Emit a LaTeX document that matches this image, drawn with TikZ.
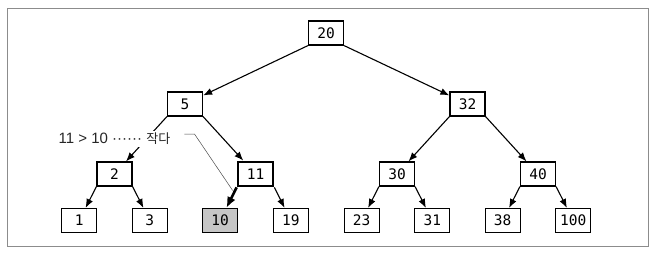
\documentclass[tikz,border=0pt]{standalone}
\usepackage{fontspec}
\setmainfont{Liberation Sans}
\setmonofont{DejaVu Sans Mono}
\newfontfamily\kor{Noto Sans CJK KR}
\usepackage{xcolor}
\usepackage{tikz}
\usetikzlibrary{arrows.meta, positioning}
\definecolor{framegray}{HTML}{8C8C8C}
\definecolor{hitgray}{HTML}{C6C6C6}
\tikzstyle{keybox} = [rectangle, minimum width=35pt, minimum height=24pt,
  inner sep=0pt, text centered, draw=black, fill=white, line width=1.2pt,
  font=\ttfamily\fontsize{14.5}{16}\selectfont]
\tikzstyle{arrow} = [line width=1.1pt, -{Latex[length=9pt,width=7pt]}]

\begin{document}
\begin{tikzpicture}[on grid,
  found/.style={keybox, fill=hitgray},
  visit/.style={keybox, line width=2.8pt},
  bold arrow/.style={line width=2.6pt, -{Latex[length=11pt,width=9pt]}},
  note/.style={fill=white, inner sep=2pt, text=black!85,
    font=\fontsize{15}{17}\selectfont},
  leader/.style={line width=0.5pt, draw=black!70}]

\useasboundingbox (0pt,0pt) rectangle (666pt,-258pt);
\fill[white] (0pt,0pt) rectangle (666pt,-258pt);
\draw[framegray, line width=1pt] (7pt,-8pt) rectangle (648pt,-246pt);

% root and second level
\node (n20) [keybox] at (326pt,-33pt) {20};
\node (n5)  [keybox, below left=71pt and 141pt of n20]  {5};
\node (n32) [keybox, below right=71pt and 141.5pt of n20] {32};

% third level
\node (n2)  [keybox, below left=70pt and 70.5pt of n5]   {2};
\node (n11) [visit,  below right=70pt and 70.5pt of n5]  {11};
\node (n30) [keybox, below left=70pt and 70.5pt of n32]  {30};
\node (n40) [keybox, below right=70pt and 70.5pt of n32] {40};

% leaves
\node (n1)   [keybox, below left=46.5pt and 35.3pt of n2]   {1};
\node (n3)   [keybox, below right=46.5pt and 35.3pt of n2]  {3};
\node (n10)  [found,  below left=46.5pt and 35.3pt of n11]  {10};
\node (n19)  [keybox, below right=46.5pt and 35.3pt of n11] {19};
\node (n23)  [keybox, below left=46.5pt and 35.3pt of n30]  {23};
\node (n31)  [keybox, below right=46.5pt and 35.3pt of n30] {31};
\node (n38)  [keybox, below left=46.5pt and 35.3pt of n40]  {38};
\node (n100) [keybox, below right=46.5pt and 35.3pt of n40] {100};

\draw [arrow] (n20.south west) -- (n5);
\draw [arrow] (n20.south east) -- (n32);
\draw [arrow] (n5.south west) -- (n2);
\draw [arrow] (n5.south east) -- (n11);
\draw [arrow] (n32.south west) -- (n30);
\draw [arrow] (n32.south east) -- (n40);
\draw [arrow] (n2.south west) -- (n1);
\draw [arrow] (n2.south east) -- (n3);
\draw [bold arrow] (n11.south west) -- (n10);
\draw [arrow] (n11.south east) -- (n19);
\draw [arrow] (n30.south west) -- (n23);
\draw [arrow] (n30.south east) -- (n31);
\draw [arrow] (n40.south west) -- (n38);
\draw [arrow] (n40.south east) -- (n100);

% comparison note
\node (cmp) [note] at (114.5pt,-139pt) {11 > 10 ······ {\kor\fontsize{13}{15}\selectfont 작다}};
\coordinate (cmptip) at ([xshift=-4pt,yshift=-3pt]n11.south west);
\draw [leader] ([xshift=12pt,yshift=5pt]cmp.east) -- ++(10pt,0) -- (cmptip);

\end{tikzpicture}
\end{document}
